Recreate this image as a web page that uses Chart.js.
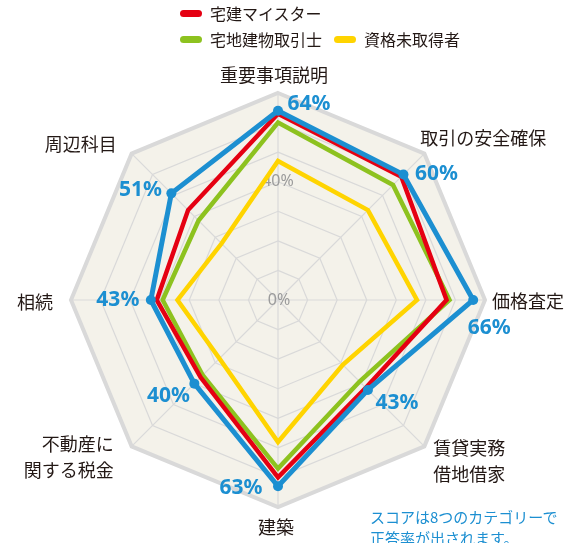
<!DOCTYPE html>
<html lang="ja">
<head>
<meta charset="utf-8">
<title>カテゴリー別正答率</title>
<script src="https://cdn.jsdelivr.net/npm/chart.js@4/dist/chart.umd.min.js"></script>
<style>
  body { margin: 0; background: #fff; font-family: 'Noto Sans CJK JP', sans-serif; }
  #wrap { position: relative; width: 586px; height: 543px; overflow: hidden; }
  #radar { position: absolute; left: 0; top: 0; }
  #legend {
    position: absolute; left: 180px; top: 1px;
    display: grid; grid-template-columns: 154px auto; row-gap: 2px;
  }
  #legend .item { display: flex; align-items: center; height: 24px; font-size: 16px; color: #231815; }
  #legend .item:first-child { grid-column: 1 / span 2; }
  #legend .mark { width: 22px; height: 7px; border-radius: 4px; margin-right: 8px; }
  #note {
    position: absolute; left: 370px; top: 506px;
    font-size: 15px; line-height: 21px; color: #1c8fd1; white-space: nowrap;
  }
</style>
</head>
<body>
<div id="wrap">
  <canvas id="radar" width="586" height="543"></canvas>
  <div id="legend"></div>
  <div id="note">スコアは8つのカテゴリーで<br>正答率が出されます。</div>
</div>
<script>
// categories, clockwise from the top
const categories = [
    ['重要事項説明'],
    ['取引の安全確保'],
    ['価格査定'],
    ['賃貸実務', '借地借家'],
    ['建築'],
    ['不動産に', '関する税金'],
    ['相続'],
    ['周辺科目']
];

// scores in %
const scoreYou = [64, 60, 66, 43, 63, 40, 43, 51];
const scoreMeister = [63, 59, 57, 42, 60, 37, 41, 43];
const scoreTakken = [60, 55, 58, 39, 57, 36, 39, 38];
const scoreNone = [47, 43, 47, 31, 48, 28, 34, 27];

const scaleMax = 70;
const tickStep = 10;
const shownTicks = [40];

const BLUE = '#1c8fd1';
const RED = '#e50012';
const GREEN = '#8dc21f';
const YELLOW = '#ffd400';
const TEXT = '#231815';

// where the category names sit relative to the outer corner
const labelPlace = [
    { dx: -4, dy: -18, align: 'center' },
    { dx: -4, dy: -15, align: 'left' },
    { dx: 7, dy: 1, align: 'left' },
    { dx: 9, dy: 2, align: 'left' },
    { dx: -2, dy: 20, align: 'center' },
    { dx: -18, dy: -2, align: 'right' },
    { dx: -18, dy: 2, align: 'right' },
    { dx: -15, dy: -9, align: 'right' }
];

// where the blue score labels sit relative to each blue point
const valueOffset = [
    [31, -7], [33, -1], [16, 28], [29, 13],
    [-37, 2], [-26, 12], [-33, 0], [-31, -3]
];

const legendItems = [
    { label: '宅建マイスター', color: RED },
    { label: '宅地建物取引士', color: GREEN },
    { label: '資格未取得者', color: YELLOW }
];

const legend = document.getElementById('legend');
legendItems.forEach(function(it) {
    const div = document.createElement('div');
    div.className = 'item';
    div.innerHTML = '<span class="mark" style="background:' + it.color + '"></span>' + it.label;
    legend.appendChild(div);
});

const overlayPlugin = {
    id: 'overlay',
    afterDraw(chart) {
        const ctx = chart.ctx;
        const r = chart.scales.r;
        ctx.save();
        ctx.textBaseline = 'middle';

        // 0% at the centre (Chart.js skips the first tick)
        ctx.font = '16px "Noto Sans", sans-serif';
        ctx.fillStyle = '#9b9b9b';
        ctx.textAlign = 'center';
        ctx.fillText('0%', r.xCenter + 1, r.yCenter);

        // category names
        ctx.font = '18px "Noto Sans CJK JP", sans-serif';
        ctx.fillStyle = TEXT;
        categories.forEach(function(lines, i) {
            const p = r.getPointPosition(i, r.drawingArea);
            const s = labelPlace[i];
            ctx.textAlign = s.align;
            lines.forEach(function(line, j) {
                ctx.fillText(line, p.x + s.dx, p.y + s.dy + j * 26);
            });
        });

        // blue score labels
        const meta = chart.getDatasetMeta(0);
        ctx.font = 'bold 21px "Noto Sans", sans-serif';
        ctx.fillStyle = BLUE;
        ctx.textAlign = 'center';
        meta.data.forEach(function(pt, i) {
            const o = valueOffset[i];
            ctx.fillText(scoreYou[i] + '%', pt.x + o[0], pt.y + o[1]);
        });
        ctx.restore();
    }
};

function lineSet(label, data, color, width, dots) {
    return {
        label: label,
        data: data,
        borderColor: color,
        backgroundColor: color,
        borderWidth: width,
        fill: false,
        tension: 0,
        pointRadius: dots ? 5 : 0,
        pointBorderWidth: 0,
        pointHoverRadius: dots ? 5 : 0
    };
}

new Chart(document.getElementById('radar'), {
    type: 'radar',
    data: {
        labels: categories.map(c => c.join('')),
        datasets: [
            lineSet('あなた', scoreYou, BLUE, 5, true),
            lineSet('宅建マイスター', scoreMeister, RED, 4.5, false),
            lineSet('宅地建物取引士', scoreTakken, GREEN, 4.5, false),
            lineSet('資格未取得者', scoreNone, YELLOW, 4.5, false)
        ]
    },
    options: {
        responsive: false,
        animation: false,
        layout: { padding: { left: 63, right: 93, top: 85, bottom: 28 } },
        plugins: {
            legend: { display: false },
            tooltip: { enabled: false }
        },
        scales: {
            r: {
                min: 0,
                max: scaleMax,
                backgroundColor: '#f4f2ea',
                ticks: {
                    stepSize: tickStep,
                    showLabelBackdrop: false,
                    backdropPadding: 0,
                    color: '#9b9b9b',
                    font: { size: 16, family: '"Noto Sans", sans-serif' },
                    callback: v => shownTicks.includes(v) ? v + '%' : ''
                },
                grid: {
                    color: '#d9d9d9',
                    lineWidth: c => (c.tick && c.tick.value === scaleMax) ? 4 : 1.2
                },
                angleLines: { color: '#d9d9d9', lineWidth: 1.2 },
                pointLabels: { display: false }
            }
        }
    },
    plugins: [overlayPlugin]
});
</script>
</body>
</html>
